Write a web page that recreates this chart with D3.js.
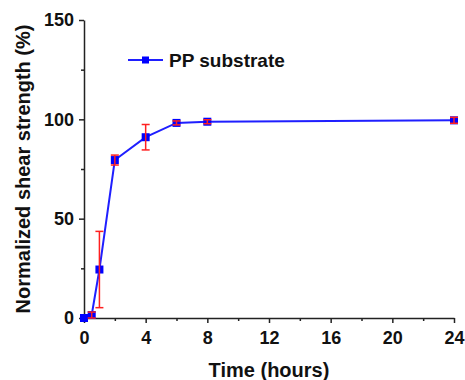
<!DOCTYPE html>
<html>
<head>
<meta charset="utf-8">
<script src="https://cdn.jsdelivr.net/npm/d3@7"></script>
<style>
  body { margin: 0; background: #fff; }
  text { font-family: "Liberation Sans", Arial, sans-serif; font-weight: bold; fill: #111; }
</style>
</head>
<body>
<div class="chart"></div>
<script>
let w = 465;
let h = 380;

// data
let hours = [0, 0.5, 1, 2, 4, 6, 8, 24];
let strength = [0, 1.5, 24.4, 79.5, 91, 98.2, 98.8, 99.5];
let errs = [0, 1.5, 19.2, 2.5, 6.4, 1, 1, 1.5];
let xTicks = [0, 4, 8, 12, 16, 20, 24];
let yTicks = [0, 50, 100, 150];
let seriesName = "PP substrate";

let margin = {left: 84, right: 11, top: 20, bottom: 62};

let svg = d3.select(".chart")
  .append("svg")
  .attr("width", w)
  .attr("height", h);

let x = d3.scaleLinear()
  .domain([0, 24])
  .range([margin.left, w - margin.right]);

let y = d3.scaleLinear()
  .domain([0, 150])
  .range([h - margin.bottom, margin.top]);

// minor ticks
let xAxisMinor = d3.axisBottom(x).tickValues(d3.range(2, 24, 4)).tickSize(3).tickFormat("");
let yAxisMinor = d3.axisLeft(y).tickValues([25, 75, 125]).tickSize(3).tickFormat("");

svg.append("g")
  .attr("transform", "translate(0," + y(0) + ")")
  .call(xAxisMinor)
  .call(g => g.select(".domain").remove())
  .selectAll("line").attr("stroke", "#222").attr("stroke-width", 1.5);

svg.append("g")
  .attr("transform", "translate(" + x(0) + ",0)")
  .call(yAxisMinor)
  .call(g => g.select(".domain").remove())
  .selectAll("line").attr("stroke", "#222").attr("stroke-width", 1.5);

let xAxis = d3.axisBottom(x).tickValues(xTicks).tickSize(5).tickSizeOuter(0).tickPadding(8);
let yAxis = d3.axisLeft(y).tickValues(yTicks).tickSize(5).tickSizeOuter(0).tickPadding(5);

let xg = svg.append("g")
  .attr("transform", "translate(0," + y(0) + ")")
  .call(xAxis);
xg.selectAll("text").attr("font-size", "18px").style("font-family", "Liberation Sans, Arial, sans-serif").style("font-weight", "bold").attr("fill", "#111");

let yg = svg.append("g")
  .attr("transform", "translate(" + x(0) + ",0)")
  .call(yAxis);
yg.selectAll("text").attr("font-size", "18px").style("font-family", "Liberation Sans, Arial, sans-serif").style("font-weight", "bold").attr("fill", "#111");

svg.selectAll(".domain, .tick line").attr("stroke", "#222").attr("stroke-width", 1.5);

// axis titles
svg.append("text")
  .attr("x", (x(0) + x(24)) / 2)
  .attr("y", 377)
  .attr("text-anchor", "middle")
  .attr("font-size", "20px")
  .text("Time (hours)");

svg.append("text")
  .attr("transform", "translate(30," + ((y(0) + y(150)) / 2) + ") rotate(-90)")
  .attr("text-anchor", "middle")
  .attr("font-size", "20px")
  .text("Normalized shear strength (%)");

let data = hours.map(function(d, i) {
  return {t: d, v: strength[i], e: errs[i]};
});

// line
let line = d3.line()
  .x(function(d) { return x(d.t); })
  .y(function(d) { return y(d.v); });

svg.append("path")
  .datum(data)
  .attr("d", line)
  .attr("fill", "none")
  .attr("stroke", "#1f1fff")
  .attr("stroke-width", 2);

// markers
svg.selectAll(".pt")
  .data(data)
  .enter()
  .append("rect")
  .attr("class", "pt")
  .attr("x", function(d) { return x(d.t) - 4; })
  .attr("y", function(d) { return y(d.v) - 4; })
  .attr("width", 8)
  .attr("height", 8)
  .attr("fill", "#0000ff");

// error bars
let eb = svg.selectAll(".err")
  .data(data.filter(function(d) { return d.e > 0; }))
  .enter()
  .append("g")
  .attr("class", "err")
  .attr("stroke", "#ff2020")
  .attr("stroke-width", 1.5);

eb.append("line")
  .attr("x1", function(d) { return x(d.t); })
  .attr("x2", function(d) { return x(d.t); })
  .attr("y1", function(d) { return y(d.v - d.e); })
  .attr("y2", function(d) { return y(d.v + d.e); });

eb.append("line")
  .attr("x1", function(d) { return x(d.t) - 4; })
  .attr("x2", function(d) { return x(d.t) + 4; })
  .attr("y1", function(d) { return y(d.v + d.e); })
  .attr("y2", function(d) { return y(d.v + d.e); });

eb.append("line")
  .attr("x1", function(d) { return x(d.t) - 4; })
  .attr("x2", function(d) { return x(d.t) + 4; })
  .attr("y1", function(d) { return y(d.v - d.e); })
  .attr("y2", function(d) { return y(d.v - d.e); });

// legend
let lg = svg.append("g").attr("transform", "translate(128,60)");
lg.append("line")
  .attr("x1", 0).attr("x2", 35)
  .attr("y1", 0).attr("y2", 0)
  .attr("stroke", "#1f1fff").attr("stroke-width", 2);
lg.append("rect")
  .attr("x", 14).attr("y", -3.5)
  .attr("width", 7).attr("height", 7)
  .attr("fill", "#0000ff");
lg.append("text")
  .attr("x", 41)
  .attr("y", 7)
  .attr("font-size", "19px")
  .text(seriesName);
</script>
</body>
</html>
